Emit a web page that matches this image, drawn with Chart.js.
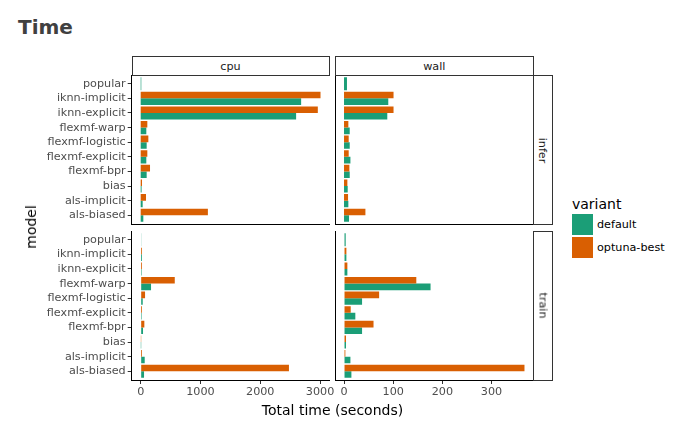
<!DOCTYPE html>
<html>
<head>
<meta charset="utf-8">
<script src="https://cdn.jsdelivr.net/npm/chart.js@4.4.1/dist/chart.umd.min.js"></script>
<style>
  html, body { margin: 0; padding: 0; background: #fff; }
  #fig { position: relative; width: 680px; height: 428px; overflow: hidden; font-family: "DejaVu Sans", sans-serif; }
  .box { position: absolute; }
  .strip { position: absolute; box-sizing: border-box; border: 1px solid #333; background: #fff;
           display: flex; align-items: center; justify-content: center; font-size: 11.2px; color: #1a1a1a; z-index: 2; }
  .strip span.v { display: inline-block; transform: rotate(90deg); white-space: nowrap; }
  .txt { position: absolute; white-space: nowrap; line-height: 1; }
  .key { position: absolute; width: 21px; height: 21px; }
</style>
</head>
<body>
<div id="fig">
  <div class="txt" style="left:18px;top:17px;font-size:20px;font-weight:bold;color:#404040">Time</div>

  <div class="box" style="left:0px;top:63px;width:346px;height:172px"><canvas id="cpuInfer"></canvas></div>
  <div class="box" style="left:333px;top:63px;width:217px;height:172px"><canvas id="wallInfer"></canvas></div>
  <div class="box" style="left:0px;top:219px;width:346px;height:189px"><canvas id="cpuTrain"></canvas></div>
  <div class="box" style="left:333px;top:219px;width:217px;height:189px"><canvas id="wallTrain"></canvas></div>

  <div class="strip" style="left:131.5px;top:56px;width:198px;height:20px">cpu</div>
  <div class="strip" style="left:335px;top:56px;width:198.5px;height:20px">wall</div>
  <div class="strip" style="left:533px;top:75px;width:19.5px;height:150px"><span class="v">infer</span></div>
  <div class="strip" style="left:533px;top:231px;width:19.5px;height:149.5px"><span class="v">train</span></div>

  <div class="txt" style="left:31px;top:227px;font-size:14px;color:#000;transform:translate(-50%,-50%) rotate(-90deg)">model</div>
  <div class="txt" style="left:332.5px;top:410px;font-size:14px;color:#000;transform:translate(-50%,-50%)">Total time (seconds)</div>

  <div class="txt" style="left:572px;top:197px;font-size:14px;color:#000">variant</div>
  <div class="key" id="key0" style="left:572px;top:214px"></div>
  <div class="key" id="key1" style="left:572px;top:237px"></div>
  <div class="txt" id="lab0" style="left:597px;top:219px;font-size:11.2px;color:#000"></div>
  <div class="txt" id="lab1" style="left:597px;top:242px;font-size:11.2px;color:#000"></div>
</div>

<script>
// models, top to bottom
const models = ["popular", "iknn-implicit", "iknn-explicit", "flexmf-warp", "flexmf-logistic",
  "flexmf-explicit", "flexmf-bpr", "bias", "als-implicit", "als-biased"];
const variants = ["default", "optuna-best"];
const colors = ["#1B9E77", "#D95F02"];

// seconds (popular only has a default run)
const cpuInferDefault = [10, 2684, 2600, 94, 100, 94, 100, 15, 33, 44];
const cpuInferOptuna = [null, 3008, 2963, 111, 128, 111, 156, 22, 89, 1124];
const wallInferDefault = [6, 90, 88, 11.6, 11.6, 13, 11.6, 7.5, 8.8, 10.2];
const wallInferOptuna = [null, 100.7, 100.7, 8.8, 9.5, 9.5, 10.9, 6.8, 8.2, 43.5];
const cpuTrainDefault = [6, 22, 17, 173, 34, 17, 39, 2, 67, 56];
const cpuTrainOptuna = [null, 22, 22, 570, 73, 22, 61, 3, 22, 2480];
const wallTrainDefault = [3.4, 4.8, 6.8, 176, 36.7, 23, 36.7, 4, 13, 15];
const wallTrainOptuna = [null, 4.8, 6.8, 147, 71.4, 13.6, 60, 4, 2.7, 367];

// x tick labels per column
const cpuTicks = [0, 1000, 2000, 3000];
const wallTicks = [0, 100, 200, 300];

Chart.defaults.font.family = "DejaVu Sans";
Chart.defaults.font.size = 11.2;

// legend
variants.forEach((v, i) => {
  document.getElementById("key" + i).style.background = colors[i];
  document.getElementById("lab" + i).textContent = v;
});

const toPoints = (vals) => vals.map((v, i) => ({ x: v, y: i }));
const colMax = (...arrs) => Math.max(...arrs.flat().filter((v) => v != null));

function panel(id, defVals, optVals, xTop, tickVals, leftCol, bottomRow) {
  new Chart(document.getElementById(id), {
    type: "bar",
    data: {
      datasets: [
        { label: variants[1], data: toPoints(optVals), backgroundColor: colors[1] },
        { label: variants[0], data: toPoints(defVals), backgroundColor: colors[0] },
      ],
    },
    options: {
      indexAxis: "y",
      animation: false,
      responsive: true,
      maintainAspectRatio: false,
      layout: {
        padding: { top: 12, bottom: bottomRow ? 0 : 10, left: 0, right: 16.5 },
      },
      plugins: {
        legend: { display: false },
        tooltip: { enabled: false },
      },
      datasets: {
        bar: {
          categoryPercentage: 0.9,
          barPercentage: 1,
          skipNull: true,
          borderWidth: 0,
        },
      },
      scales: {
        x: {
          type: "linear",
          bounds: "data",
          min: -0.05 * xTop,
          max: 1.05 * xTop,
          afterBuildTicks: (s) => { s.ticks = tickVals.map((v) => ({ value: v })); },
          ticks: {
            display: bottomRow,
            color: "#4d4d4d",
            padding: 1,
            maxRotation: 0,
            autoSkip: false,
            callback: (value) => String(value),
          },
          grid: {
            display: bottomRow,
            drawOnChartArea: false,
            drawTicks: bottomRow,
            tickLength: 4,
            color: "#333",
          },
          border: { display: true, color: "#000", width: 1 },
          afterFit: (s) => { s.height = bottomRow ? 28 : 1; },
        },
        y: {
          type: "linear",
          reverse: true,
          offset: false,
          bounds: "data",
          min: -0.6,
          max: models.length - 0.4,
          afterBuildTicks: (s) => { s.ticks = models.map((m, i) => ({ value: i })); },
          ticks: {
            display: leftCol,
            autoSkip: false,
            color: "#4d4d4d",
            padding: 2,
            callback: (value) => models[value],
          },
          grid: {
            display: leftCol,
            offset: false,
            drawOnChartArea: false,
            drawTicks: leftCol,
            tickLength: 4,
            color: "#333",
          },
          border: { display: true, color: "#000", width: 1 },
          afterFit: (s) => { s.width = leftCol ? 131.7 : 2; },
        },
      },
    },
  });
}

const cpuMax = colMax(cpuInferDefault, cpuInferOptuna, cpuTrainDefault, cpuTrainOptuna);
const wallMax = colMax(wallInferDefault, wallInferOptuna, wallTrainDefault, wallTrainOptuna);

panel("cpuInfer", cpuInferDefault, cpuInferOptuna, cpuMax, cpuTicks, true, false);
panel("wallInfer", wallInferDefault, wallInferOptuna, wallMax, wallTicks, false, false);
panel("cpuTrain", cpuTrainDefault, cpuTrainOptuna, cpuMax, cpuTicks, true, true);
panel("wallTrain", wallTrainDefault, wallTrainOptuna, wallMax, wallTicks, false, true);
</script>
</body>
</html>
